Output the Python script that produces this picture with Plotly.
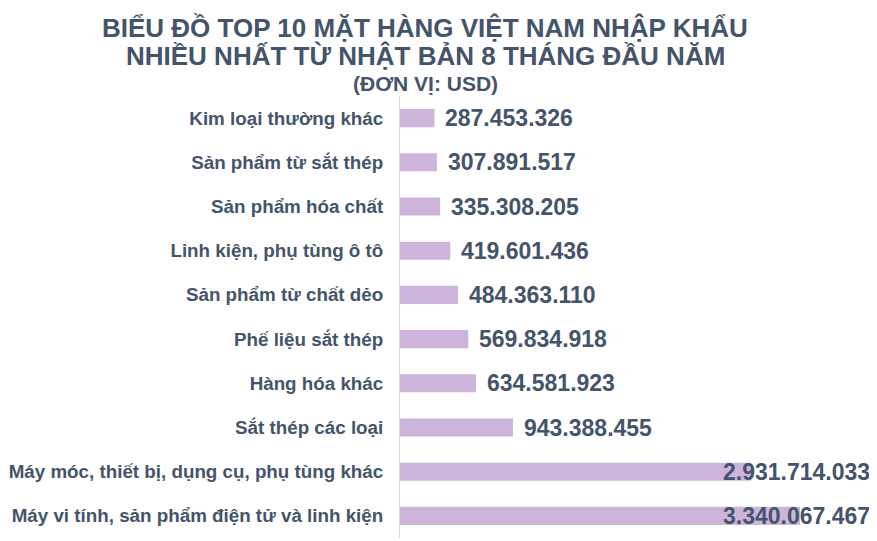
import plotly.graph_objects as go

categories = [
    "Kim loại thường khác",
    "Sản phẩm từ sắt thép",
    "Sản phẩm hóa chất",
    "Linh kiện, phụ tùng ô tô",
    "Sản phẩm từ chất dẻo",
    "Phế liệu sắt thép",
    "Hàng hóa khác",
    "Sắt thép các loại",
    "Máy móc, thiết bị, dụng cụ, phụ tùng khác",
    "Máy vi tính, sản phẩm điện tử và linh kiện",
]
values = [287453326, 307891517, 335308205, 419601436, 484363110,
          569834918, 634581923, 943388455, 2931714033, 3340067467]

TEXT = "#44546A"
BAR = "#CDB4DB"
FONT = "Liberation Sans, Arial, sans-serif"

def fmt(v):
    return f"{v:,}".replace(",", ".")

# page has an 8px body margin; figure placed at (8, 8)
OFF = 8
W, H = 877 - OFF, 541 - OFF
ML, MR, MT, MB = 400 - OFF, 5, 96 - OFF, 3
PW = W - ML - MR
PH = H - MT - MB

fig = go.Figure(go.Bar(
    x=values, y=categories, orientation="h",
    marker=dict(color=BAR, line=dict(width=0)),
    hoverinfo="skip",
))

max_v = max(values)
annotations = []
for c, v in zip(categories, values):
    if v > 0.7 * max_v:
        annotations.append(dict(x=1, xref="paper", y=c, yref="y", text=fmt(v),
                                xanchor="right", yanchor="middle", showarrow=False,
                                font=dict(family=FONT, size=23, color=TEXT, weight="bold")))
    else:
        annotations.append(dict(x=v, xref="x", y=c, yref="y", text=fmt(v),
                                xanchor="left", yanchor="middle", xshift=9, showarrow=False,
                                font=dict(family=FONT, size=23, color=TEXT, weight="bold")))

title_lines = [
    ("BIỂU ĐỒ TOP 10 MẶT HÀNG VIỆT NAM NHẬP KHẨU", 27.5, 26),
    ("NHIỀU NHẤT TỪ NHẬT BẢN 8 THÁNG ĐẦU NĂM", 55.5, 26),
    ("(ĐƠN VỊ: USD)", 83, 21),
]
for t, ypx, sz in title_lines:
    annotations.append(dict(x=(425 - 400) / PW, xref="paper",
                            y=(538 - ypx) / PH, yref="paper", text=t,
                            showarrow=False, xanchor="center", yanchor="middle",
                            font=dict(family=FONT, size=sz, color=TEXT, weight="bold")))

# x pixel mapping: zero at the axis, max value 400px to the right
x_max = max_v * PW / 400

fig.update_layout(
    width=W, height=H,
    margin=dict(l=ML, r=MR, t=MT, b=MB, autoexpand=False),
    paper_bgcolor="white", plot_bgcolor="white",
    bargap=0.59,
    showlegend=False,
    annotations=annotations,
    xaxis=dict(range=[0, x_max], visible=False, showgrid=False, zeroline=False),
    yaxis=dict(autorange="reversed", showgrid=False, zeroline=False,
               showline=True, linecolor="#D9D9D9", linewidth=1,
               ticks="", ticklabelstandoff=12,
               tickfont=dict(family=FONT, size=18.8, color=TEXT, weight="bold")),
)

fig.write_html("out.html")
